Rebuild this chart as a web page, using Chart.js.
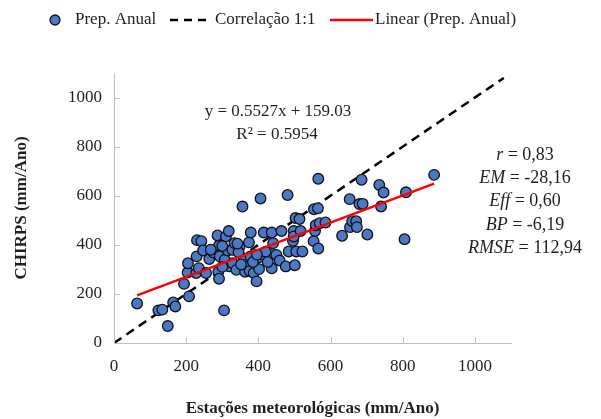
<!DOCTYPE html>
<html>
<head>
<meta charset="utf-8">
<script src="https://cdn.jsdelivr.net/npm/chart.js@4/dist/chart.umd.min.js"></script>
<style>
  body { margin: 0; background: #fff; }
  #wrap { width: 601px; height: 419px; position: relative; }
</style>
</head>
<body>
<div id="wrap"><canvas id="scatterChart"></canvas></div>
<script>
// Prep. Anual: estações (x) vs CHIRPS (y), mm/ano
const estacoes = [64, 123, 134, 149, 164, 170, 194, 208, 204, 205, 228, 229, 230, 242, 235, 247, 255, 264, 275, 287,
  291, 289, 291, 305, 310, 318, 293, 307, 315, 328, 334, 320, 329, 339, 348, 356, 360, 363, 372, 374,
  376, 379, 378, 387, 395, 398, 402, 406, 407, 415, 437, 441, 439, 437, 450, 459, 464, 476, 481, 484,
  496, 498, 498, 503, 505, 501, 514, 517, 522, 554, 565, 566, 553, 557, 559, 566, 570, 586, 632, 653,
  654, 660, 671, 673, 680, 689, 686, 702, 735, 747, 740, 887, 809, 805, 300, 345, 352, 385, 420, 300,
  268, 342, 396, 426];
const chirps = [161, 133, 136, 69, 165, 149, 241, 190, 287, 325, 285, 353, 419, 415, 305, 377, 285, 342, 369, 438,
  397, 290, 262, 133, 434, 456, 353, 339, 377, 380, 407, 312, 325, 298, 393, 556, 339, 290, 312, 410,
  293, 450, 353, 285, 251, 346, 301, 589, 361, 450, 450, 407, 363, 304, 359, 336, 456, 312, 603, 373,
  416, 456, 434, 509, 373, 317, 505, 456, 373, 545, 549, 669, 415, 456, 480, 385, 488, 491, 437, 586,
  472, 496, 496, 472, 566, 567, 665, 442, 644, 613, 556, 685, 614, 423, 395, 370, 320, 330, 372, 310,
  380, 405, 360, 330];

// Correlação 1:1 e Linear (Prep. Anual) — pontos extremos
const linha11X = [0, 1080];
const linha11Y = [0, 1080];
const linearX = [64, 887];
const linearY = [194, 649];

const eixoTicks = [0, 200, 400, 600, 800, 1000];
const equacao = ['y = 0.5527x + 159.03', 'R² = 0.5954'];
const estatNomes = ['r', 'EM', 'Eff', 'BP', 'RMSE'];
const estatValores = ['0,83', '-28,16', '0,60', '-6,19', '112,94'];

const serif = '"Liberation Serif", "Times New Roman", serif';
const txt = '#1f1f1f';
const pontoCor = '#4a78c8';

const toXY = (xs, ys) => xs.map((x, i) => ({ x: x, y: ys[i] }));

function keepTicks(scale) {
  scale.ticks = eixoTicks.map(v => ({ value: v }));
}

const decoracao = {
  id: 'decoracao',
  afterDraw(chart) {
    const { ctx, scales: { x, y } } = chart;
    ctx.save();
    // inner tick marks
    ctx.strokeStyle = '#bfbfbf';
    ctx.lineWidth = 1;
    eixoTicks.forEach(v => {
      const px = Math.round(x.getPixelForValue(v)) + 0.5;
      ctx.beginPath(); ctx.moveTo(px, y.bottom); ctx.lineTo(px, y.bottom - 6); ctx.stroke();
      const py = Math.round(y.getPixelForValue(v)) + 0.5;
      ctx.beginPath(); ctx.moveTo(x.left, py); ctx.lineTo(x.left + 6, py); ctx.stroke();
    });

    // legend
    ctx.fillStyle = txt;
    ctx.font = '17px ' + serif;
    ctx.textBaseline = 'middle';
    const ly = 20;
    ctx.beginPath(); ctx.arc(55, ly, 5, 0, Math.PI * 2);
    ctx.fillStyle = pontoCor; ctx.fill();
    ctx.strokeStyle = '#111'; ctx.lineWidth = 1.3; ctx.stroke();
    ctx.fillStyle = txt;
    ctx.fillText('Prep. Anual', 75, ly);
    ctx.strokeStyle = '#000'; ctx.lineWidth = 2.5; ctx.setLineDash([8, 6]);
    ctx.beginPath(); ctx.moveTo(170, ly); ctx.lineTo(212, ly); ctx.stroke();
    ctx.setLineDash([]);
    ctx.fillText('Correlação 1:1', 215, ly);
    ctx.strokeStyle = '#ff0000';
    ctx.beginPath(); ctx.moveTo(330, ly); ctx.lineTo(373, ly); ctx.stroke();
    ctx.fillText('Linear (Prep. Anual)', 375, ly);

    // equation
    ctx.textAlign = 'center';
    ctx.fillText(equacao[0], 278, 112);
    ctx.fillText(equacao[1], 277, 135);

    // statistics
    const cx = 525;
    estatNomes.forEach((nome, i) => {
      const yy = 155 + i * 23.3;
      const resto = ' = ' + estatValores[i];
      ctx.font = 'italic 18px ' + serif;
      const w1 = ctx.measureText(nome).width;
      ctx.font = '18px ' + serif;
      const w2 = ctx.measureText(resto).width;
      const start = cx - (w1 + w2) / 2;
      ctx.textAlign = 'left';
      ctx.font = 'italic 18px ' + serif;
      ctx.fillText(nome, start, yy);
      ctx.font = '18px ' + serif;
      ctx.fillText(resto, start + w1, yy);
    });
    ctx.restore();
  }
};

new Chart(document.getElementById('scatterChart'), {
  type: 'scatter',
  data: {
    datasets: [
      {
        label: 'Correlação 1:1',
        type: 'line',
        data: toXY(linha11X, linha11Y),
        borderColor: '#000',
        borderWidth: 2.5,
        borderDash: [9, 6],
        pointRadius: 0,
        fill: false,
        order: 3
      },
      {
        label: 'Prep. Anual',
        data: toXY(estacoes, chirps),
        backgroundColor: pontoCor,
        borderColor: '#111',
        borderWidth: 1.3,
        pointRadius: 5.3,
        order: 2
      },
      {
        label: 'Linear (Prep. Anual)',
        type: 'line',
        data: toXY(linearX, linearY),
        borderColor: '#ff0000',
        borderWidth: 2.5,
        pointRadius: 0,
        fill: false,
        order: 1
      }
    ]
  },
  options: {
    responsive: true,
    maintainAspectRatio: false,
    animation: false,
    layout: { padding: { top: 73, right: 90, left: 0, bottom: 0 } },
    plugins: {
      legend: { display: false },
      tooltip: { enabled: false }
    },
    scales: {
      x: {
        type: 'linear',
        min: 0,
        max: 1100,
        afterBuildTicks: keepTicks,
        afterFit: s => { s.height = 76; },
        grid: { display: false, drawTicks: false },
        border: { display: true, color: '#bfbfbf', width: 1 },
        ticks: { color: txt, padding: 13, font: { family: serif, size: 17 }, callback: v => String(v) },
        title: {
          display: true,
          text: 'Estações meteorológicas (mm/Ano)',
          color: txt,
          font: { family: serif, size: 17, weight: 'bold' },
          padding: { top: 22, bottom: 0 }
        }
      },
      y: {
        type: 'linear',
        min: 0,
        max: 1100,
        afterBuildTicks: keepTicks,
        afterFit: s => { s.width = 114; },
        grid: { display: false, drawTicks: false },
        border: { display: true, color: '#bfbfbf', width: 1 },
        ticks: { color: txt, padding: 12, font: { family: serif, size: 17 }, callback: v => String(v) },
        title: {
          display: true,
          text: 'CHIRPS (mm/Ano)',
          color: txt,
          font: { family: serif, size: 17, weight: 'bold' },
          padding: { top: 11, bottom: 0 }
        }
      }
    }
  },
  plugins: [decoracao]
});
</script>
</body>
</html>
